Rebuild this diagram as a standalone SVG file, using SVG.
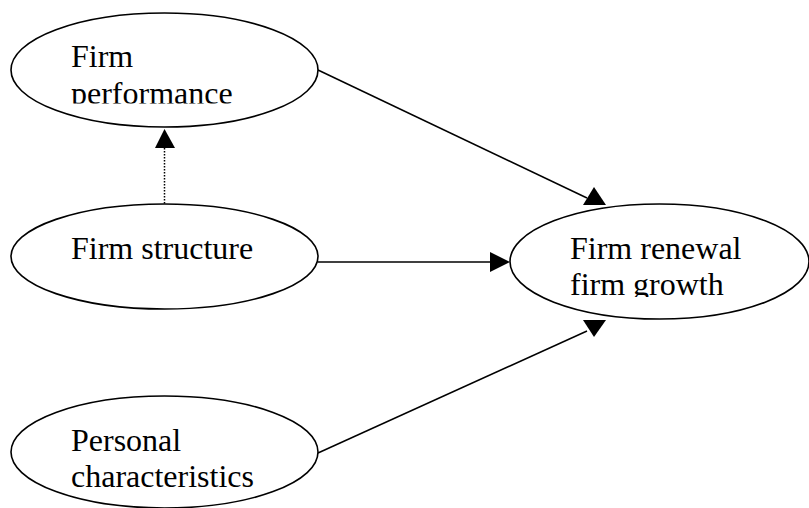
<svg xmlns="http://www.w3.org/2000/svg" width="809" height="508" viewBox="0 0 809 508">
<style>
.node ellipse{fill:#fff;stroke:#000;stroke-width:1.6}
.lbl{font-family:"Liberation Serif","Times New Roman",serif;font-size:32px;fill:#000}
.edge{stroke:#000;stroke-width:1.5;fill:none}
.dot{stroke:#000;stroke-width:1.5;fill:none;stroke-dasharray:1.5 1.5}
.head{fill:#000}
</style>
<defs>
<clipPath id="clipPerf"><rect x="0" y="0" width="330" height="103.5"/></clipPath>
<clipPath id="clipRen"><rect x="500" y="190" width="309" height="107"/></clipPath>
</defs>
<rect width="809" height="508" fill="#fff"/>
<g id="connectors">
<line class="edge" x1="318" y1="70" x2="587" y2="198"/>
<polygon class="head" points="594,187 583,205 606,205"/>
<line class="edge" x1="318" y1="262" x2="492" y2="262"/>
<polygon class="head" points="510,262 490,252 490,272"/>
<line class="edge" x1="318" y1="453" x2="587" y2="331"/>
<polygon class="head" points="583,320 606,320 594,337"/>
<line class="dot" x1="164.5" y1="148" x2="164.5" y2="204"/>
<polygon class="head" points="164.5,129 155,148 175,148"/>
</g>
<g id="firm-performance" class="node">
<ellipse cx="164.5" cy="70" rx="153.5" ry="57"/>
<g clip-path="url(#clipPerf)">
<text class="lbl" x="71" y="67">Firm</text>
<text class="lbl" x="71" y="103.5">performance</text>
</g>
</g>
<g id="firm-structure" class="node">
<ellipse cx="164.5" cy="256.5" rx="153.5" ry="52.5"/>
<text class="lbl" x="71" y="259">Firm structure</text>
</g>
<g id="personal-characteristics" class="node">
<ellipse cx="164.5" cy="452" rx="153.5" ry="56"/>
<text class="lbl" x="71" y="451">Personal</text>
<text class="lbl" x="71" y="487">characteristics</text>
</g>
<g id="firm-renewal" class="node">
<ellipse cx="659.5" cy="261.5" rx="149.5" ry="57.5"/>
<g clip-path="url(#clipRen)">
<text class="lbl" x="570" y="259">Firm renewal</text>
<text class="lbl" x="570" y="295">firm growth</text>
</g>
</g>
</svg>
